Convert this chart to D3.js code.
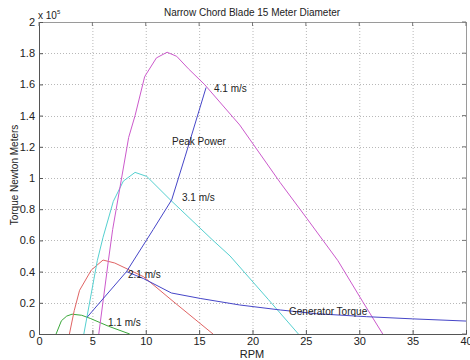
<!DOCTYPE html>
<html>
<head>
<meta charset="utf-8">
<script src="https://cdn.jsdelivr.net/npm/d3@7"></script>
<style>
  html, body { margin: 0; padding: 0; background: #fff; }
  svg { display: block; font-family: "Liberation Sans", Arial, Helvetica, sans-serif; }
</style>
</head>
<body>
<svg id="chart" width="470" height="360"></svg>
<script>
/* Torque vs RPM curves, values in units of 1e5 N·m */

const xTicks = [0, 5, 10, 15, 20, 25, 30, 35, 40];
const yTicks = [0, 0.2, 0.4, 0.6, 0.8, 1, 1.2, 1.4, 1.6, 1.8, 2];

// wind speed curves [rpm, torque]
const wind41 = [[5.6,0],[6.5,0.47],[6.9,0.67],[8.4,1.26],[9.0,1.40],[9.9,1.65],[11.0,1.77],[12.0,1.806],
  [12.9,1.78],[14.0,1.70],[15.5,1.60],[18.8,1.34],[22.6,0.97],[25.1,0.74],[28.0,0.47],[30.3,0.21],[32.2,0]];
const wind31 = [[4.2,0],[5.46,0.47],[6.0,0.62],[6.96,0.85],[7.9,0.98],[9.0,1.036],[10.1,1.01],
  [12.3,0.86],[16.3,0.60],[17.9,0.50],[21.5,0.22],[24.3,0]];
const wind21 = [[2.85,0],[3.3,0.15],[3.8,0.28],[4.9,0.41],[6.0,0.474],[7.1,0.455],[9.8,0.367],[12.55,0.21],[16.3,0]];
const wind11 = [[1.6,0],[2.1,0.085],[2.6,0.115],[3.1,0.127],[4.0,0.12],[4.8,0.10],[6.5,0.05],[8.5,0]];

const peakPower = [[4.5,0.107],[8.2,0.40],[10.7,0.67],[12.43,0.86],[13.7,1.14],[15.65,1.58]];
const genTorque = [[8.2,0.40],[9.8,0.355],[12.4,0.263],[15.1,0.228],[18.8,0.186],[22.6,0.154],
  [26.0,0.13],[30.7,0.111],[35.0,0.097],[40.0,0.083]];

const series = [
  { pts: wind11, color: "#3aa83a" },
  { pts: wind21, color: "#e06464" },
  { pts: wind31, color: "#55d0d0" },
  { pts: wind41, color: "#cc5acc" },
  { pts: peakPower, color: "#4646c8" },
  { pts: genTorque, color: "#4646c8" },
];

const labels = [
  { text: "4.1 m/s", x: 214, y: 92 },
  { text: "Peak Power", x: 172, y: 145 },
  { text: "3.1 m/s", x: 182, y: 201 },
  { text: "2.1 m/s", x: 128, y: 278 },
  { text: "1.1 m/s", x: 108, y: 326 },
  { text: "Generator Torque", x: 289, y: 315 },
];

/* ---------- Layout ---------- */
const svg = d3.select("#chart");
const L = 39, R = 466, T = 22, B = 334;

const x = d3.scaleLinear().domain([0, 40]).range([L, R]);
const y = d3.scaleLinear().domain([0, 2]).range([B, T]);

// grid
const grid = svg.append("g").attr("stroke", "#b8b8b8").attr("stroke-dasharray", "1,2").attr("stroke-width", 1);
grid.selectAll(".gx").data(xTicks.slice(1, -1)).join("line")
  .attr("x1", d => x(d) + 0.5).attr("x2", d => x(d) + 0.5).attr("y1", T).attr("y2", B);
grid.selectAll(".gy").data(yTicks.slice(1, -1)).join("line")
  .attr("y1", d => Math.round(y(d)) + 0.5).attr("y2", d => Math.round(y(d)) + 0.5).attr("x1", L).attr("x2", R);

// box (top/right light)
svg.append("rect").attr("x", L + 0.5).attr("y", T + 0.5).attr("width", R - L).attr("height", B - T)
  .attr("fill", "none").attr("stroke", "#9a9a9a");

// axes with inward ticks
const fmt = d => String(+d.toFixed(1));
const xAxis = svg.append("g").attr("transform", `translate(0,${B})`)
  .call(d3.axisBottom(x).tickValues(xTicks).tickFormat(fmt).tickSizeInner(-4).tickSizeOuter(0).tickPadding(3));
const yAxis = svg.append("g").attr("transform", `translate(${L},0)`)
  .call(d3.axisLeft(y).tickValues(yTicks).tickFormat(fmt).tickSizeInner(-4).tickSizeOuter(0).tickPadding(4));
for (const ax of [xAxis, yAxis]) {
  ax.selectAll("path").attr("stroke", "#555");
  ax.selectAll("line").attr("stroke", "#555");
  ax.selectAll("text").attr("font-size", 11).attr("fill", "#222").attr("font-family", "Liberation Sans, Arial, sans-serif");
}
// top/right inward ticks
svg.append("g").selectAll("line").data(xTicks).join("line")
  .attr("x1", d => x(d)).attr("x2", d => x(d)).attr("y1", T).attr("y2", T + 4).attr("stroke", "#777");
svg.append("g").selectAll("line").data(yTicks).join("line")
  .attr("y1", d => y(d)).attr("y2", d => y(d)).attr("x1", R).attr("x2", R - 4).attr("stroke", "#777");

// curves
const line = d3.line().x(d => x(d[0])).y(d => y(d[1]));
svg.append("g").selectAll("path").data(series).join("path")
  .attr("d", d => line(d.pts))
  .attr("fill", "none")
  .attr("stroke", d => d.color)
  .attr("stroke-width", 1);

// curve labels
svg.append("g").selectAll("text").data(labels).join("text")
  .attr("x", d => d.x).attr("y", d => d.y)
  .attr("font-size", 10).attr("fill", "#222")
  .text(d => d.text);

// title, axis labels, exponent
svg.append("text").attr("x", 252).attr("y", 16).attr("text-anchor", "middle")
  .attr("font-size", 10).attr("fill", "#222").text("Narrow Chord Blade 15 Meter Diameter");
svg.append("text").attr("x", 252).attr("y", 358).attr("text-anchor", "middle")
  .attr("font-size", 11).attr("fill", "#222").text("RPM");
svg.append("text").attr("transform", "translate(18,175) rotate(-90)").attr("text-anchor", "middle")
  .attr("font-size", 10).attr("fill", "#222").text("Torque Newton Meters");
const ex = svg.append("text").attr("x", 38).attr("y", 19).attr("font-size", 10).attr("fill", "#222");
ex.append("tspan").text("x 10");
ex.append("tspan").attr("dy", -5).attr("font-size", 6).text("5");
</script>
</body>
</html>
